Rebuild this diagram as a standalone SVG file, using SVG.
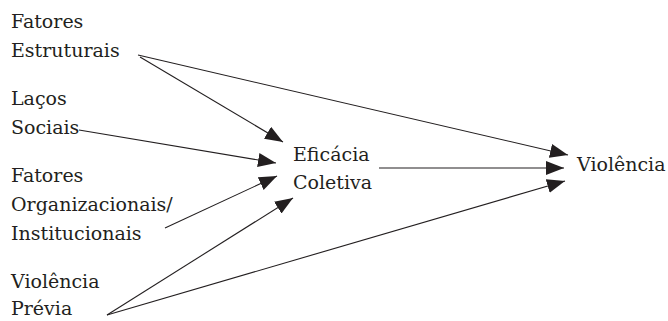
<svg xmlns="http://www.w3.org/2000/svg" width="668" height="321" viewBox="0 0 668 321">
<style>
text{font-family:"DejaVu Serif","Liberation Serif",serif;font-size:19px;fill:#231f20}
.c line{stroke:#231f20;stroke-width:1.1;marker-end:url(#ah)}
</style>
<defs>
<marker id="ah" markerUnits="userSpaceOnUse" markerWidth="20" markerHeight="14" refX="18" refY="7" orient="auto">
<path d="M0,0 L18,7 L0,14 z" fill="#231f20"/>
</marker>
</defs>
<rect width="668" height="321" fill="#fff"/>
<g id="n-fatores-estruturais"><text x="11" y="28">Fatores</text><text x="11" y="57">Estruturais</text></g>
<g id="n-lacos-sociais"><text x="11" y="105">Laços</text><text x="11" y="134">Sociais</text></g>
<g id="n-fatores-org"><text x="11" y="182">Fatores</text><text x="11" y="211">Organizacionais/</text><text x="11" y="240">Institucionais</text></g>
<g id="n-violencia-previa"><text x="11" y="288">Violência</text><text x="11" y="315">Prévia</text></g>
<g id="n-eficacia"><text x="293" y="161">Eficácia</text><text x="293" y="189">Coletiva</text></g>
<g id="n-violencia"><text x="577" y="171">Violência</text></g>
<g class="c" id="connectors">
<line x1="140" y1="57" x2="283" y2="142"/>
<line x1="138" y1="55" x2="568" y2="155"/>
<line x1="79" y1="130" x2="276" y2="163"/>
<line x1="165" y1="228" x2="277" y2="176"/>
<line x1="107" y1="315" x2="293" y2="198"/>
<line x1="107" y1="315" x2="565" y2="181"/>
<line x1="379" y1="168" x2="564" y2="168"/>
</g>
</svg>
